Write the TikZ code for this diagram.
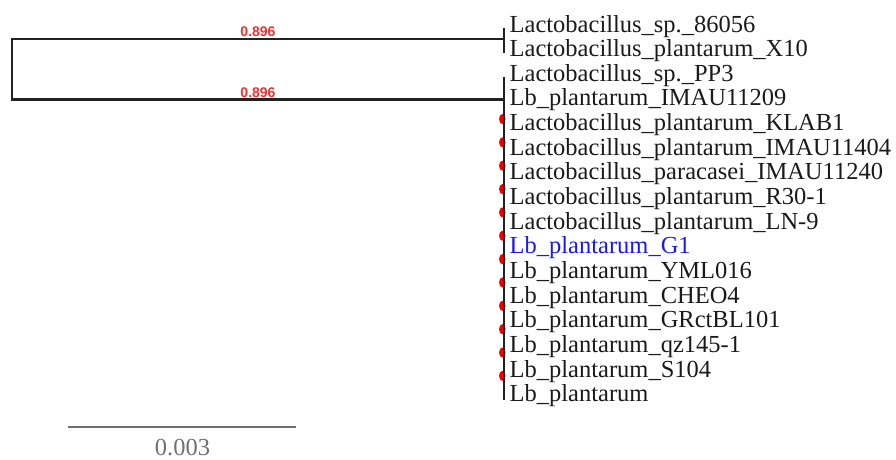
\documentclass[tikz,border=0pt]{standalone}
\usepackage{fontspec}
\setmainfont{Liberation Serif}
\newfontfamily\lblfont{Liberation Sans}
\usetikzlibrary{shapes.geometric}
\definecolor{leafc}{HTML}{1A1A1A}
\definecolor{linec}{HTML}{222222}
\definecolor{suppc}{HTML}{F03030}
\definecolor{bluec}{HTML}{1A1AF0}
\definecolor{scalec}{HTML}{707070}
\definecolor{dotc}{HTML}{F00000}
\begin{document}
\begin{tikzpicture}[x=1pt,y=-1pt,
  leaf/.style={anchor=base west, inner sep=0pt, font=\fontsize{24.5}{24.5}\selectfont, text=leafc},
  branch/.style={draw=linec, line width=2.2pt},
  supp/.style={anchor=base, inner sep=0pt, font=\lblfont\bfseries\fontsize{14}{14}\selectfont, text=suppc},
  dotm/.style={ellipse, fill=dotc, draw=none, inner sep=0pt, minimum width=6.5pt, minimum height=10pt},
  scalebar/.style={draw=scalec, line width=2pt},
  scalelbl/.style={anchor=base, inner sep=0pt, font=\fontsize{24.5}{24.5}\selectfont, text=scalec}]
\useasboundingbox (0,0) rectangle (896,459);
% leaves
\foreach \i/\t in {1/Lactobacillus\_sp.\_86056,2/Lactobacillus\_plantarum\_X10,3/Lactobacillus\_sp.\_PP3,4/Lb\_plantarum\_IMAU11209,5/Lactobacillus\_plantarum\_KLAB1,6/Lactobacillus\_plantarum\_IMAU11404,7/Lactobacillus\_paracasei\_IMAU11240,8/Lactobacillus\_plantarum\_R30-1,9/Lactobacillus\_plantarum\_LN-9,11/Lb\_plantarum\_YML016,12/Lb\_plantarum\_CHEO4,13/Lb\_plantarum\_GRctBL101,14/Lb\_plantarum\_qz145-1,15/Lb\_plantarum\_S104,16/Lb\_plantarum}
  \node[leaf] (L\i) at (509.5,{32+(\i-1)*24.65}) {\t};
\node[leaf, text=bluec] (L10) at (509.5,{32+9*24.65}) {Lb\_plantarum\_G1};
% tree coordinates
\coordinate (rtop) at (12,39.3);
\coordinate (rbot) at (12,99.5);
\coordinate (c1) at (504,39.3);
\coordinate (c1t) at (504,28);
\coordinate (c1b) at (504,52.6);
\coordinate (c2) at (504,99.5);
\coordinate (c2t) at (504,77.3);
\coordinate (c2b) at (504,399.5);
% red node markers
\foreach \j in {0,...,11}
  \node[dotm] (d\j) at (502.3,{119+\j*23.35}) {};
% branches
\draw[branch, line join=miter] (c1) -- (rtop) -- (rbot) -- (c2);
\draw[branch] (c1t) -- (c1b);
\draw[branch] (c2t) -- (c2b);
% support values
\node[supp] (s1) at (258,36) {0.896};
\node[supp] (s2) at (258,97.3) {0.896};
% scale bar
\coordinate (sb1) at (68,427);
\coordinate (sb2) at (296,427);
\draw[scalebar] (sb1) -- (sb2);
\node[scalelbl] (sbl) at (182.5,455) {0.003};
\end{tikzpicture}
\end{document}
